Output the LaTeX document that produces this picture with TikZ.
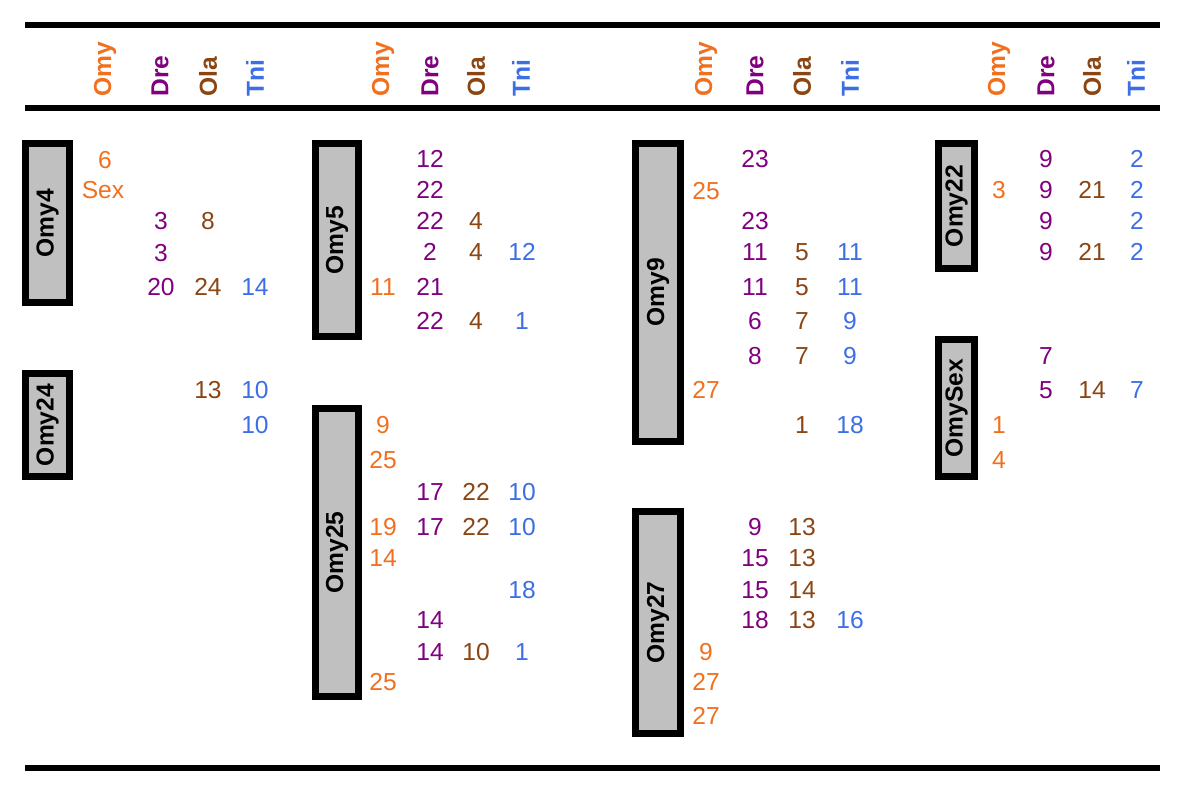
\documentclass[tikz,border=0pt]{standalone}
\usepackage{fontspec}
\setmainfont{Liberation Sans}
\usepackage{tikz}
\usetikzlibrary{positioning}
\definecolor{omyorange}{RGB}{240,112,32}
\definecolor{drepurple}{RGB}{128,0,128}
\definecolor{olabrown}{RGB}{139,69,19}
\definecolor{tniblue}{RGB}{60,110,230}
\definecolor{chromgray}{RGB}{192,192,192}

\begin{document}
\begin{tikzpicture}[
  x=0.02cm,y=-0.02cm,
  font=\fontsize{14}{16}\selectfont,
  chrom/.style={draw=black,fill=chromgray,line width=4pt,rotate=90,
                minimum height=0.88cm,inner sep=0pt,
                font=\fontsize{14}{16}\selectfont\bfseries},
  hdr/.style={rotate=90,anchor=west,inner sep=0pt,
              font=\fontsize{14}{16}\selectfont\bfseries},
  omy/.style={text=omyorange,inner sep=0pt},
  dre/.style={text=drepurple,inner sep=0pt},
  ola/.style={text=olabrown,inner sep=0pt},
  tni/.style={text=tniblue,inner sep=0pt},
  rule/.style={line width=3.6pt}
]
  \useasboundingbox (0,0) rectangle (1200,800);
  % rules
  \draw[rule] (25,25) -- (1160,25);
  \draw[rule] (25,108) -- (1160,108);
  \draw[rule] (25,768) -- (1160,768);
  % column heads
  \foreach \g/\xo/\xd/\xl/\xt in {a/105/160/208/255,b/383/430/476/521,
                                   c/706/755/802/850,d/999/1046/1092/1136} {
    \node[hdr,text=omyorange] (omyh\g) at (\xo,97) {Omy};
    \node[hdr,text=drepurple] (dreh\g) at (\xd,97) {Dre};
    \node[hdr,text=olabrown]  (olah\g) at (\xl,97) {Ola};
    \node[hdr,text=tniblue]   (tnih\g) at (\xt,97) {Tni};
  }
  % chromosomes
  \node[chrom,minimum width=3.18cm] (omy4)   at (47.5,223)  {Omy4};
  \node[chrom,minimum width=2.06cm] (omy24)  at (47.5,425)  {Omy24};
  \node[chrom,minimum width=3.86cm,minimum height=0.86cm] (omy5)  at (337,240)   {Omy5};
  \node[chrom,minimum width=5.76cm,minimum height=0.86cm] (omy25) at (337,552.5) {Omy25};
  \node[chrom,minimum width=5.96cm,minimum height=0.9cm]  (omy9)  at (658,292.5) {Omy9};
  \node[chrom,minimum width=4.44cm,minimum height=0.9cm]  (omy27) at (658,622.5) {Omy27};
  \node[chrom,minimum width=2.5cm,minimum height=0.72cm]  (omy22) at (956.5,206) {Omy22};
  \node[chrom,minimum width=2.74cm,minimum height=0.72cm] (omysex) at (956.5,408) {OmySex};
  % Omy
  \foreach \x/\y/\t [count=\i] in {105/160/6,103/190/Sex,383/287/11,383/425/9,
      383/460/25,383/527/19,383/558/14,383/682/25,706/191/25,706/390/27,
      706/652/9,706/682/27,706/716/27,999/190/3,999/425/1,999/460/4}
    \node[omy] (o\i) at (\x,\y) {\t};
  % Dre
  \foreach \x/\y/\t [count=\i] in {161/221/3,161/253/3,161/287/20,430/159/12,
      430/190/22,430/221/22,430/252/2,430/287/21,430/321/22,430/492/17,
      430/527/17,430/620/14,430/652/14,755/159/23,755/221/23,755/252/11,
      755/287/11,755/321/6,755/356/8,755/527/9,755/558/15,755/590/15,
      755/620/18,1046/159/9,1046/190/9,1046/221/9,1046/252/9,1046/356/7,
      1046/390/5}
    \node[dre] (d\i) at (\x,\y) {\t};
  % Ola
  \foreach \x/\y/\t [count=\i] in {208/221/8,208/287/24,208/390/13,476/221/4,
      476/252/4,476/321/4,476/492/22,476/527/22,476/652/10,802/252/5,
      802/287/5,802/321/7,802/356/7,802/425/1,802/527/13,802/558/13,
      802/590/14,802/620/13,1092/190/21,1092/252/21,1092/390/14}
    \node[ola] (l\i) at (\x,\y) {\t};
  % Tni
  \foreach \x/\y/\t [count=\i] in {255/287/14,255/390/10,255/425/10,522/252/12,
      522/321/1,522/492/10,522/527/10,522/590/18,522/652/1,850/252/11,
      850/287/11,850/321/9,850/356/9,850/425/18,850/620/16,1137/159/2,
      1137/190/2,1137/221/2,1137/252/2,1137/390/7}
    \node[tni] (t\i) at (\x,\y) {\t};
\end{tikzpicture}
\end{document}
